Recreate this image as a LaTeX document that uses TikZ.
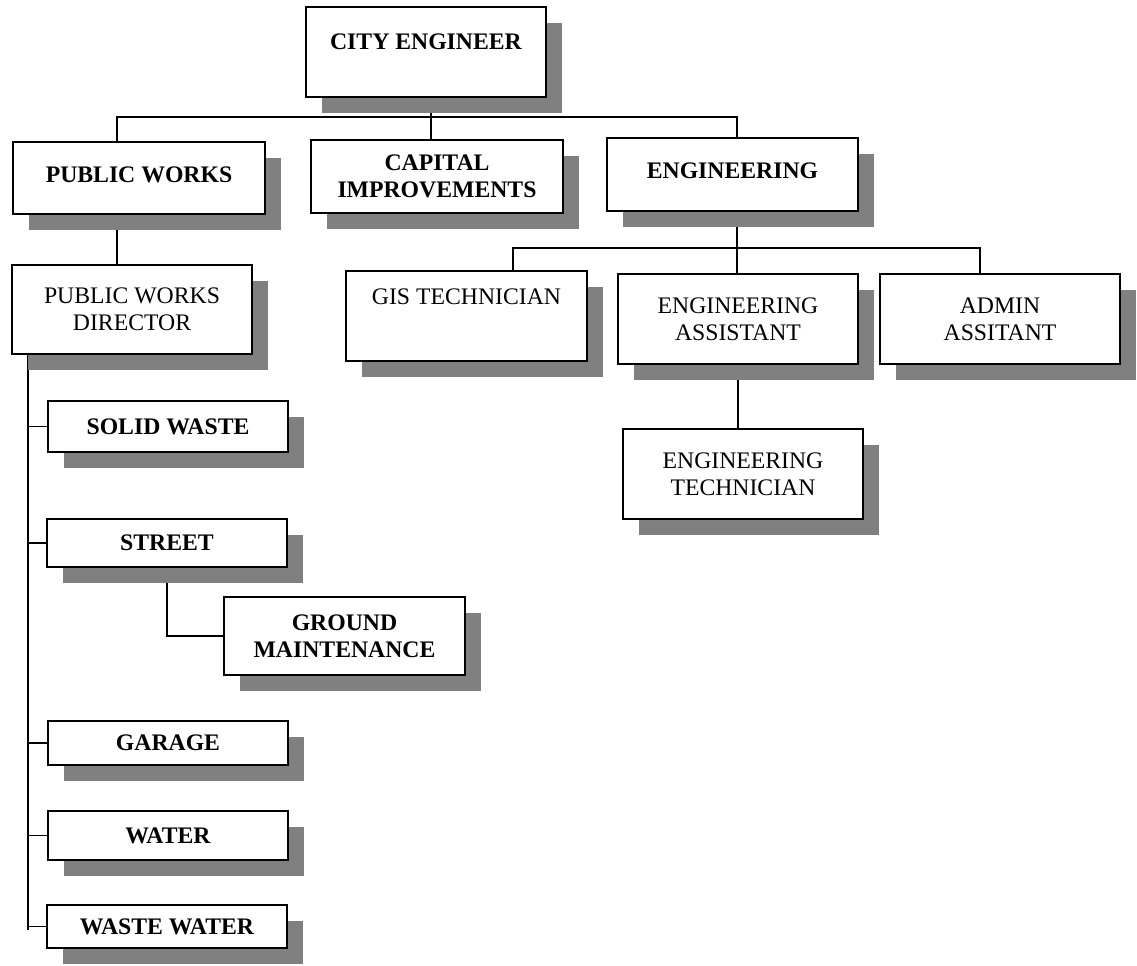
\documentclass[tikz,border=0pt]{standalone}
\usepackage{fontspec}
\setmainfont{Liberation Serif}
\usetikzlibrary{shadows,backgrounds}

\newcommand{\orgfont}{\fontsize{13.5}{15.6}\selectfont}

\tikzset{
	orgbox/.style={draw, line width=1.1pt, fill=white, inner sep=0pt, align=center,
		drop shadow={shadow xshift=0.32cm, shadow yshift=-0.32cm, fill=black!50, opacity=1}},
	boxsize/.style 2 args={minimum width=#1*0.02cm, minimum height=#2*0.02cm},
	head/.style={orgbox, font=\orgfont\bfseries},
	staff/.style={orgbox, font=\orgfont},
	link/.style={line width=1.1pt}
}

\begin{document}
\begin{tikzpicture}[x=0.02cm, y=-0.02cm]
			%%%%% START %%%%%
			\useasboundingbox (0,0) rectangle (1137,965);
			
			% top level
			\node[head, boxsize={240}{90}, text depth=0.4cm] (ce) at (426,52) {CITY ENGINEER};
			
			\node[head, boxsize={252}{72}, text depth=0.12cm] (pw) at (139,178) {PUBLIC WORKS};
			\node[head, boxsize={252}{73}] (ci) at (437,176.5) {CAPITAL\\IMPROVEMENTS};
			\node[head, boxsize={251}{73}, text depth=0.14cm] (eng) at (732.5,174.5) {ENGINEERING};
			
			% engineering side
			\node[staff, boxsize={241}{90}, text depth=0.76cm] (gis) at (466.5,316) {GIS TECHNICIAN};
			\node[staff, boxsize={240}{90}] (ea) at (738,319) {ENGINEERING\\ASSISTANT};
			\node[staff, boxsize={240}{90}] (adm) at (1000,319) {ADMIN\\ASSITANT};
			\node[staff, boxsize={240}{90}] (et) at (743,474) {ENGINEERING\\TECHNICIAN};
			
			% public works side
			\node[staff, boxsize={240}{89}] (pwd) at (132,309.5) {PUBLIC WORKS\\DIRECTOR};
			\node[head, boxsize={240}{51}] (sw) at (168,426.5) {SOLID WASTE};
			\node[head, boxsize={240}{48}] (st) at (167,543) {STREET};
			\node[head, boxsize={241}{78}] (gm) at (344.5,636) {GROUND\\MAINTENANCE};
			\node[head, boxsize={240}{44}] (gar) at (168,743) {GARAGE};
			\node[head, boxsize={240}{49}] (wat) at (168,835.5) {WATER};
			\node[head, boxsize={240}{43}] (ww) at (167,926.5) {WASTE WATER};
			
			\coordinate (top-l) at (117,117);
			\coordinate (top-m) at (431,117);
			\coordinate (top-r) at (737,117);
			\coordinate (eng-l) at (513,248);
			\coordinate (eng-m) at (737,248);
			\coordinate (eng-r) at (980,248);
			\coordinate (spine) at (28,930);
			
			\begin{scope}[on background layer]
				\draw[link] (top-l |- pw.north) -- (top-l) -- (top-r) -- (top-r |- eng.north);
				\draw[link] (top-m |- ce.south) -- (top-m |- ci.north);
				\draw[link] (top-l |- pw.south) -- (top-l |- pwd.north);
				
				\draw[link] (eng-m |- eng.south) -- (eng-m |- ea.north);
				\draw[link] (eng-l |- gis.north) -- (eng-l) -- (eng-r) -- (eng-r |- adm.north);
				\draw[link] (ea.south) -- (ea.south |- et.north);
				
				\draw[link] (spine |- pwd.south) -- (spine);
				\foreach \b in {sw,st,gar,wat,ww}
					\draw[link] (spine |- \b.west) -- (\b.west);
				\draw[link] (st.south) |- (gm.west);
			\end{scope}
			
			%%%%% END %%%%%
\end{tikzpicture}
\end{document}
